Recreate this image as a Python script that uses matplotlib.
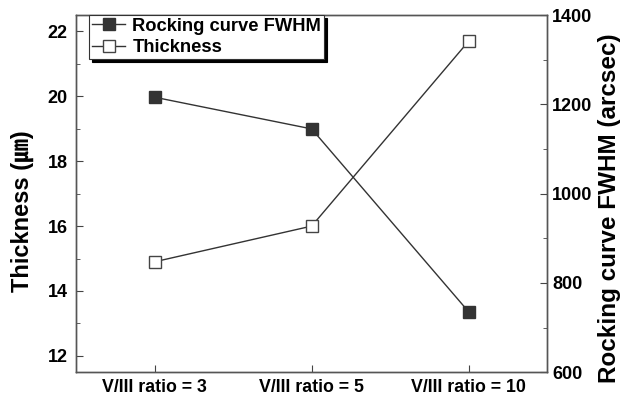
import matplotlib
matplotlib.use('Agg')
import matplotlib.pyplot as plt
from matplotlib.ticker import MultipleLocator

# 數據
categories = ['V/III ratio = 3', 'V/III ratio = 5', 'V/III ratio = 10']
thickness = [14.9, 16.0, 21.7]      # ㎛
fwhm = [1216, 1145, 735]            # arcsec

plt.rcParams['font.family'] = ['Liberation Sans', 'Noto Sans CJK KR', 'DejaVu Sans']
plt.rcParams['font.weight'] = 'bold'

line_c = '#333333'
fig = plt.figure(figsize=(6.24, 3.98), dpi=100)
ax = fig.add_axes([0.122, 0.065, 0.755, 0.897])
ax2 = ax.twinx()

x = range(1, len(categories) + 1)
l1, = ax2.plot(x, fwhm, '-s', color=line_c, lw=1.0, ms=8.5,
               mfc='#333333', mec='#333333', label='Rocking curve FWHM')
l2, = ax.plot(x, thickness, '-s', color=line_c, lw=1.0, ms=8.5,
              mfc='white', mec='#444444', mew=1.0, label='Thickness')

ax.set_xlim(0.5, 3.5)
ax.set_xticks(list(x))
ax.set_xticklabels(categories)
ax.set_ylim(11.5, 22.5)
ax.yaxis.set_major_locator(MultipleLocator(2))
ax.yaxis.set_minor_locator(MultipleLocator(1))
ax2.set_ylim(600, 1400)
ax2.yaxis.set_major_locator(MultipleLocator(200))
ax2.yaxis.set_minor_locator(MultipleLocator(100))

for a in (ax, ax2):
    a.tick_params(which='both', direction='in', labelsize=13, color='#444444')
    a.tick_params(which='major', length=5)
    a.tick_params(which='minor', length=3)
    for s in a.spines.values():
        s.set_color('#555555')
        s.set_linewidth(1.0)
ax.tick_params(axis='y', pad=6)
ax.tick_params(axis='x', pad=5, labelsize=12.8)
ax.tick_params(axis='x', which='minor', bottom=False)
for lab in ax.get_yticklabels() + ax2.get_yticklabels() + ax.get_xticklabels():
    lab.set_fontweight('bold')

ax.set_ylabel('Thickness (㎛)', fontsize=17, fontweight='bold')
ax.yaxis.set_label_coords(-0.09, 0.45)
ax2.set_ylabel('Rocking curve FWHM (arcsec)', fontsize=17.5, fontweight='bold')
ax2.yaxis.set_label_coords(1.108, 0.46)

leg = ax2.legend(handles=[l1, l2], loc='upper left', bbox_to_anchor=(0.028, 1.0),
                 borderaxespad=0, frameon=True, fancybox=False,
                 shadow={'color': 'black', 'alpha': 1.0},
                 edgecolor='#333333', handlelength=1.8,
                 handletextpad=0.4, labelspacing=0.25, borderpad=0.15,
                 prop={'weight': 'bold', 'size': 13.2})
leg.get_frame().set_linewidth(0.8)

fig.savefig('out.png', dpi=100)
